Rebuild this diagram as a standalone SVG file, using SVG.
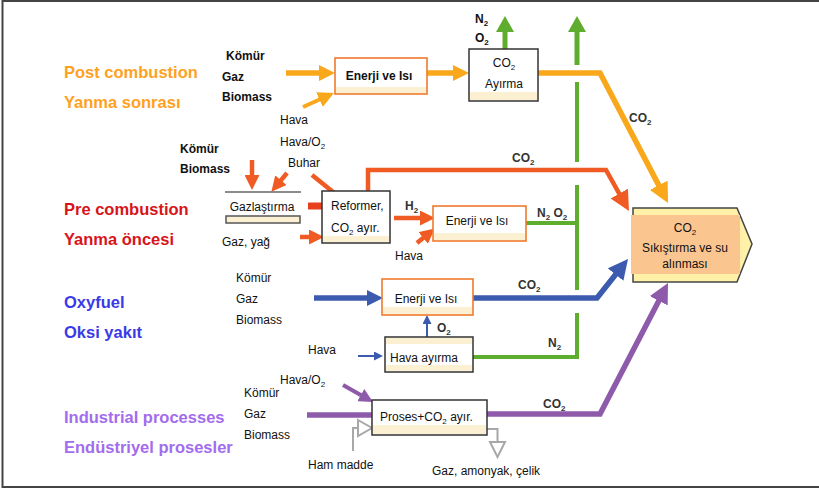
<svg xmlns="http://www.w3.org/2000/svg" width="819" height="492" viewBox="0 0 819 492">
<defs>
<style>
text{font-family:"Liberation Sans",Arial,sans-serif;fill:#111}
.t{font-size:16.5px;font-weight:bold}
.lb{font-size:12px;font-weight:bold}
.l{font-size:12px}
.lg{font-size:12px;font-weight:bold;fill:#333}
.c{text-anchor:middle}
.bw{fill:#fff}
.cr{fill:#FBF1D2}
.bo{fill:none;stroke:#F07A2E;stroke-width:1.6}
.bk{fill:none;stroke:#333;stroke-width:1.5}
.or{stroke:#F9A71B;stroke-width:5.5;fill:none}
.rd{stroke:#F05A23;stroke-width:4.5;fill:none}
.gr{stroke:#5FAD2E;stroke-width:4;fill:none}
.bl{stroke:#3C5AAE;stroke-width:5.5;fill:none}
.pu{stroke:#8E5BAA;stroke-width:5.5;fill:none}
.gy{stroke:#A8A8A8;stroke-width:2;fill:none}
.thin{stroke-width:2}
.mid{stroke-width:4}
.wide{stroke-width:5}
</style>
<marker id="aO" markerUnits="userSpaceOnUse" viewBox="0 0 16 16" markerWidth="16" markerHeight="16" refX="8" refY="8" orient="auto"><path d="M0,0 L16,8 L0,16 z" fill="#F9A71B"/></marker>
<marker id="aOb" markerUnits="userSpaceOnUse" viewBox="0 0 20 20" markerWidth="20" markerHeight="20" refX="10" refY="10" orient="auto"><path d="M0,0 L20,10 L0,20 z" fill="#F9A71B"/></marker>
<marker id="aR" markerUnits="userSpaceOnUse" viewBox="0 0 15 15" markerWidth="15" markerHeight="15" refX="7" refY="7.5" orient="auto"><path d="M0,0 L15,7.5 L0,15 z" fill="#F05A23"/></marker>
<marker id="aRb" markerUnits="userSpaceOnUse" viewBox="0 0 20 20" markerWidth="20" markerHeight="20" refX="10" refY="10" orient="auto"><path d="M0,0 L20,10 L0,20 z" fill="#F05A23"/></marker>
<marker id="aG" markerUnits="userSpaceOnUse" viewBox="0 0 16 18" markerWidth="16" markerHeight="18" refX="8" refY="9" orient="auto"><path d="M0,0 L16,9 L0,18 z" fill="#5FAD2E"/></marker>
<marker id="aB" markerUnits="userSpaceOnUse" viewBox="0 0 16 16" markerWidth="16" markerHeight="16" refX="8" refY="8" orient="auto"><path d="M0,0 L16,8 L0,16 z" fill="#3C5AAE"/></marker>
<marker id="aBb" markerUnits="userSpaceOnUse" viewBox="0 0 20 20" markerWidth="20" markerHeight="20" refX="10" refY="10" orient="auto"><path d="M0,0 L20,10 L0,20 z" fill="#3C5AAE"/></marker>
<marker id="aBs" markerUnits="userSpaceOnUse" viewBox="0 0 9 9" markerWidth="9" markerHeight="9" refX="4" refY="4.5" orient="auto"><path d="M0,0 L9,4.5 L0,9 z" fill="#3C5AAE"/></marker>
<marker id="aP" markerUnits="userSpaceOnUse" viewBox="0 0 14 14" markerWidth="14" markerHeight="14" refX="7" refY="7" orient="auto"><path d="M0,0 L14,7 L0,14 z" fill="#8E5BAA"/></marker>
<marker id="aPb" markerUnits="userSpaceOnUse" viewBox="0 0 20 20" markerWidth="20" markerHeight="20" refX="10" refY="10" orient="auto"><path d="M0,0 L20,10 L0,20 z" fill="#8E5BAA"/></marker>
</defs>
<rect width="819" height="492" fill="#fff"/>
<path d="M830,1 L2.5,1 L2.5,487 L830,487" fill="none" stroke="#444" stroke-width="2"/>

<g id="titles">
<text class="t" x="64" y="78" style="fill:#FFA11E">Post combustion</text>
<text class="t" x="64" y="108" style="fill:#FFA11E">Yanma sonrası</text>
<text class="t" x="64" y="215" style="fill:#D7141A">Pre combustion</text>
<text class="t" x="64" y="245" style="fill:#D7141A">Yanma öncesi</text>
<text class="t" x="64" y="308" style="fill:#3A3AE6">Oxyfuel</text>
<text class="t" x="64" y="338" style="fill:#3A3AE6">Oksi yakıt</text>
<text class="t" x="64" y="423" style="fill:#A36CEE">Industrial processes</text>
<text class="t" x="64" y="453" style="fill:#A36CEE">Endüstriyel prosesler</text>
</g>

<g id="connectors">
<!-- post combustion -->
<path class="or" d="M286,73 L327,73" marker-end="url(#aO)"/>
<path class="or mid" d="M303,107 L326.7,96.3" marker-end="url(#aO)"/>
<path class="or" d="M427,73 L461,73" marker-end="url(#aO)"/>
<!-- green trunk -->
<path class="gr wide" d="M505,49 L505,24" marker-end="url(#aG)"/>
<path class="gr" d="M526,223 L577,223 M473,357 L577,357 L577,313 M577,290 L577,185 M577,162 L577,82"/>
<path class="gr wide" d="M577,65 L577,24" marker-end="url(#aG)"/>
<!-- orange CO2 to compression -->
<path class="or" d="M538,73 L600,73 L663.4,194.1" marker-end="url(#aOb)"/>
<!-- pre combustion -->
<path class="rd" d="M252,160 L252,182" marker-end="url(#aR)"/>
<path class="rd" d="M287,173 L276.5,185.6" marker-end="url(#aR)"/>
<path class="rd" d="M312,175 L338,196"/>
<path d="M308,206 L322,206" stroke="#E8401C" stroke-width="7"/>
<path class="rd" d="M300,237 L316,237" marker-end="url(#aR)"/>
<path class="rd" d="M368,191 L368,170 L606,170 L624.1,202.3" marker-end="url(#aRb)"/>
<path class="rd" d="M394,218 L427,218" marker-end="url(#aR)"/>
<path class="rd" d="M417,243 L428.6,233.5" marker-end="url(#aR)"/>
<!-- oxyfuel -->
<path class="bl" d="M314,298 L375,298" marker-end="url(#aB)"/>
<path class="bl" d="M473,298 L597,298 L621.8,266.8" marker-end="url(#aBb)"/>
<path class="bl thin" d="M427,337 L427,320" marker-end="url(#aBs)"/>
<path class="bl thin" d="M358,356 L378,356" marker-end="url(#aBs)"/>
<!-- industrial -->
<path class="pu mid" d="M343,385 L366.9,398.6" marker-end="url(#aP)"/>
<path class="pu" d="M307,415 L372,415"/>
<path class="pu" d="M487,414 L600,414 L663.4,291.9" marker-end="url(#aPb)"/>
<path class="gy" d="M353,451 L353,428 L358,428"/>
<path class="gy" d="M358,420 L372,428 L358,436 z" style="fill:#fff"/>
<path class="gy" d="M487,429 L497.5,429 L497.5,442"/>
<path class="gy" d="M490,442 L505,442 L497.5,457 z" style="fill:#fff"/>
</g>

<g id="connector-labels">
<text class="lb" x="475" y="23">N<tspan font-size="8" dy="3">2</tspan></text>
<text class="lb" x="475" y="42">O<tspan font-size="8" dy="3">2</tspan></text>
<text class="lg" x="629" y="122">CO<tspan font-size="8" dy="3">2</tspan></text>
<text class="lg" x="512" y="162">CO<tspan font-size="8" dy="3">2</tspan></text>
<text class="lg" x="405" y="210">H<tspan font-size="8" dy="3">2</tspan></text>
<text class="lg" x="537" y="217">N<tspan font-size="8" dy="3">2</tspan><tspan dy="-3"> O</tspan><tspan font-size="8" dy="3">2</tspan></text>
<text class="lg" x="518" y="289">CO<tspan font-size="8" dy="3">2</tspan></text>
<text class="lg" x="437" y="332">O<tspan font-size="8" dy="3">2</tspan></text>
<text class="lg" x="548" y="347">N<tspan font-size="8" dy="3">2</tspan></text>
<text class="lg" x="543" y="408">CO<tspan font-size="8" dy="3">2</tspan></text>
</g>

<g id="inputs">
<text class="lb" x="226" y="60">Kömür</text>
<text class="lb" x="222" y="81">Gaz</text>
<text class="lb" x="222" y="101">Biomass</text>
<text class="l" x="280" y="124">Hava</text>
<text class="l" x="280" y="146">Hava/O<tspan font-size="8" dy="3">2</tspan></text>
<text class="l" x="288" y="167">Buhar</text>
<text class="lb" x="180" y="153">Kömür</text>
<text class="lb" x="180" y="173">Biomass</text>
<text class="l" x="222" y="246">Gaz, yağ</text>
<text class="l" x="395" y="260">Hava</text>
<text class="l" x="236" y="282">Kömür</text>
<text class="l" x="236" y="303">Gaz</text>
<text class="l" x="236" y="324">Biomass</text>
<text class="l" x="308" y="354">Hava</text>
<text class="l" x="244" y="397">Kömür</text>
<text class="l" x="244" y="418">Gaz</text>
<text class="l" x="244" y="439">Biomass</text>
<text class="l" x="280" y="384">Hava/O<tspan font-size="8" dy="3">2</tspan></text>
<text class="l" x="308" y="469">Ham madde</text>
<text class="l" x="432" y="475">Gaz, amonyak, çelik</text>
</g>

<g id="enerji-post">
<rect class="bw" x="335" y="58" width="92" height="36"/>
<rect class="cr" x="336" y="87" width="90" height="6"/>
<rect class="bo" x="335" y="58" width="92" height="36"/>
<text class="lb c" x="379" y="80">Enerji ve Isı</text>
</g>
<g id="co2-ayirma">
<rect class="bw" x="469" y="49" width="69" height="52"/>
<rect class="cr" x="470" y="92" width="67" height="8"/>
<rect class="bk" x="469" y="49" width="69" height="52"/>
<text class="l c" x="504" y="67">CO<tspan font-size="8" dy="3">2</tspan></text>
<text class="l c" x="504" y="88">Ayırma</text>
</g>
<g id="gazlastirma">
<path d="M225,192 L301,192" stroke="#666" stroke-width="1.5"/>
<rect class="cr" x="226" y="216" width="74" height="7" stroke="#555" stroke-width="1.5"/>
<text class="l c" x="262" y="211">Gazlaştırma</text>
</g>
<g id="reformer">
<rect class="bw" x="322" y="191" width="68" height="52"/>
<rect class="cr" x="323" y="236" width="66" height="6"/>
<rect class="bk" x="322" y="191" width="68" height="52"/>
<text class="l" x="331" y="210">Reformer,</text>
<text class="l" x="331" y="232">CO<tspan font-size="8" dy="3">2</tspan><tspan dy="-3"> ayır.</tspan></text>
</g>
<g id="enerji-pre">
<rect class="bw" x="433" y="206" width="93" height="35"/>
<rect class="cr" x="434" y="233" width="91" height="7"/>
<rect class="bo" x="433" y="206" width="93" height="35"/>
<text class="l c" x="477" y="225">Enerji ve Isı</text>
</g>
<g id="enerji-oxy">
<rect class="bw" x="382" y="279" width="91" height="36"/>
<rect class="cr" x="383" y="307" width="89" height="7"/>
<rect class="bo" x="382" y="279" width="91" height="36"/>
<text class="l c" x="426" y="303">Enerji ve Isı</text>
</g>
<g id="hava-ayirma">
<rect class="bw" x="385" y="337" width="88" height="35"/>
<rect class="cr" x="386" y="338" width="86" height="6"/>
<rect class="cr" x="386" y="365" width="86" height="6"/>
<rect class="bk" x="385" y="337" width="88" height="35"/>
<text class="l c" x="424" y="362">Hava ayırma</text>
</g>
<g id="proses">
<rect class="bw" x="372" y="400" width="115" height="35"/>
<rect class="cr" x="373" y="425" width="113" height="9"/>
<rect class="bk" x="372" y="400" width="115" height="35"/>
<text class="l" x="380" y="421">Proses+CO<tspan font-size="8" dy="3">2</tspan><tspan dy="-3"> ayır.</tspan></text>
</g>
<g id="compression">
<path d="M633,208 L737,208 L752,244 L737,282 L633,282 z" fill="#FFF1A8" stroke="#444" stroke-width="1.5"/>
<rect x="631" y="215" width="109" height="59" fill="#FBC590"/>
<text class="l c" x="685" y="232">CO<tspan font-size="8" dy="3">2</tspan></text>
<text class="l c" x="685" y="252">Sıkıştırma ve su</text>
<text class="l c" x="685" y="268">alınması</text>
</g>
</svg>
